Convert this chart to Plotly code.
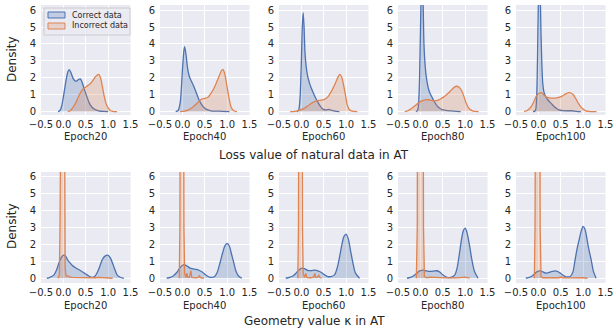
import plotly.graph_objects as go

W, H = 615, 329

epochs = ["Epoch20", "Epoch40", "Epoch60", "Epoch80", "Epoch100"]
row_titles = ["Loss value of natural data in AT", "Geometry value κ in AT"]
series_names = ["Correct data", "Incorrect data"]
x_tick_vals = [-0.5, 0.0, 0.5, 1.0, 1.5]
x_tick_text = ["−0.5", "0.0", "0.5", "1.0", "1.5"]
y_tick_vals = [0, 1, 2, 3, 4, 5, 6]

# ---------------- Loss value (top row) ----------------
loss_e20_correct_x = [-0.12, -0.08, -0.04, 0.0, 0.05, 0.1, 0.13, 0.17, 0.22, 0.27, 0.3, 0.34, 0.38, 0.42, 0.47, 0.53, 0.58, 0.64, 0.7, 0.79, 0.9, 1.0]
loss_e20_correct_y = [0, 0.05, 0.3, 0.85, 1.7, 2.35, 2.48, 2.3, 1.95, 1.8, 1.82, 1.9, 1.93, 1.72, 1.3, 0.85, 0.5, 0.26, 0.14, 0.05, 0.01, 0]
loss_e20_incorrect_x = [0.1, 0.15, 0.2, 0.25, 0.3, 0.35, 0.4, 0.45, 0.5, 0.55, 0.6, 0.65, 0.7, 0.75, 0.79, 0.83, 0.87, 0.91, 0.95, 1.0, 1.05, 1.1, 1.2]
loss_e20_incorrect_y = [0, 0.05, 0.2, 0.4, 0.65, 0.95, 1.2, 1.35, 1.45, 1.55, 1.65, 1.8, 2.0, 2.15, 2.2, 2.0, 1.5, 0.95, 0.5, 0.22, 0.07, 0.02, 0]

loss_e40_correct_x = [-0.15, -0.1, -0.05, 0.0, 0.03, 0.05, 0.08, 0.12, 0.16, 0.21, 0.27, 0.32, 0.38, 0.44, 0.5, 0.57, 0.64, 0.75, 0.9, 1.05]
loss_e40_correct_y = [0, 0.05, 0.5, 2.4, 3.5, 3.84, 3.4, 2.5, 2.05, 1.75, 1.4, 1.05, 0.65, 0.38, 0.2, 0.1, 0.05, 0.03, 0.02, 0]
loss_e40_incorrect_x = [-0.05, 0.05, 0.15, 0.25, 0.35, 0.42, 0.5, 0.57, 0.63, 0.7, 0.76, 0.83, 0.88, 0.91, 0.95, 1.0, 1.05, 1.09, 1.15, 1.22]
loss_e40_incorrect_y = [0, 0.03, 0.12, 0.3, 0.55, 0.72, 0.78, 0.85, 1.05, 1.35, 1.7, 2.15, 2.45, 2.48, 2.2, 1.45, 0.7, 0.26, 0.05, 0]

loss_e60_correct_x = [-0.1, -0.06, -0.03, 0.0, 0.02, 0.04, 0.06, 0.08, 0.11, 0.14, 0.18, 0.22, 0.26, 0.31, 0.37, 0.43, 0.48, 0.55, 0.62, 0.68, 0.75, 0.85]
loss_e60_correct_y = [0, 0.1, 0.8, 3.0, 5.0, 5.85, 5.0, 3.5, 2.6, 2.1, 1.7, 1.4, 1.15, 0.85, 0.55, 0.3, 0.15, 0.1, 0.13, 0.07, 0.03, 0]
loss_e60_incorrect_x = [-0.25, -0.15, -0.05, 0.05, 0.15, 0.26, 0.35, 0.45, 0.52, 0.6, 0.66, 0.72, 0.77, 0.82, 0.86, 0.9, 0.96, 1.0, 1.03, 1.08, 1.14, 1.25]
loss_e60_incorrect_y = [0, 0.02, 0.08, 0.18, 0.35, 0.55, 0.65, 0.68, 0.72, 0.9, 1.15, 1.45, 1.75, 2.05, 2.2, 2.05, 1.35, 0.75, 0.35, 0.1, 0.03, 0]

loss_e80_correct_x = [-0.1, -0.06, -0.03, 0.0, 0.02, 0.04, 0.06, 0.08, 0.11, 0.14, 0.18, 0.22, 0.26, 0.31, 0.37, 0.44, 0.51, 0.6, 0.7, 0.8, 0.9]
loss_e80_correct_y = [0, 0.1, 1.0, 4.5, 7.0, 7.6, 6.5, 4.0, 2.6, 1.9, 1.35, 1.05, 0.85, 0.6, 0.35, 0.18, 0.1, 0.06, 0.04, 0.02, 0]
loss_e80_incorrect_x = [-0.35, -0.28, -0.2, -0.12, -0.05, 0.02, 0.1, 0.18, 0.26, 0.33, 0.4, 0.47, 0.55, 0.62, 0.7, 0.76, 0.81, 0.86, 0.92, 0.98, 1.03, 1.1, 1.18, 1.3]
loss_e80_incorrect_y = [0, 0.05, 0.18, 0.35, 0.5, 0.62, 0.7, 0.7, 0.66, 0.64, 0.68, 0.78, 0.92, 1.08, 1.3, 1.45, 1.5, 1.45, 1.25, 0.85, 0.45, 0.15, 0.03, 0]

loss_e100_correct_x = [-0.12, -0.07, -0.04, -0.02, 0.0, 0.02, 0.04, 0.06, 0.08, 0.1, 0.13, 0.17, 0.21, 0.25, 0.3, 0.35, 0.41, 0.46, 0.55, 0.65, 0.75, 0.85, 0.95]
loss_e100_correct_y = [0, 0.05, 0.8, 3.0, 6.5, 8.0, 7.0, 4.5, 2.65, 1.6, 1.1, 0.85, 0.7, 0.58, 0.45, 0.3, 0.18, 0.1, 0.06, 0.05, 0.05, 0.02, 0]
loss_e100_incorrect_x = [-0.32, -0.25, -0.16, -0.1, -0.05, 0.0, 0.06, 0.12, 0.17, 0.23, 0.28, 0.33, 0.38, 0.45, 0.53, 0.6, 0.67, 0.73, 0.78, 0.84, 0.89, 0.95, 1.0, 1.05, 1.12, 1.3]
loss_e100_incorrect_y = [0, 0.07, 0.3, 0.6, 0.9, 1.05, 1.12, 1.0, 0.88, 0.82, 0.8, 0.8, 0.8, 0.84, 0.92, 1.03, 1.12, 1.1, 1.0, 0.75, 0.5, 0.28, 0.15, 0.06, 0.02, 0]

# ---------------- Geometry value (bottom row) ----------------
geo_e20_correct_x = [-0.37, -0.3, -0.21, -0.15, -0.1, -0.05, 0.0, 0.05, 0.09, 0.15, 0.2, 0.28, 0.35, 0.43, 0.5, 0.57, 0.64, 0.7, 0.76, 0.82, 0.87, 0.93, 1.0, 1.05, 1.11, 1.16, 1.2, 1.27, 1.35]
geo_e20_correct_y = [0, 0.05, 0.2, 0.5, 0.9, 1.2, 1.35, 1.3, 1.1, 0.9, 0.75, 0.6, 0.5, 0.37, 0.25, 0.13, 0.05, 0.1, 0.35, 0.75, 1.1, 1.3, 1.35, 1.2, 0.8, 0.45, 0.2, 0.06, 0]
geo_e20_incorrect_x = [-0.12, -0.09, -0.075, -0.07, -0.05, -0.02, 0.01, 0.025, 0.03, 0.04, 0.06, 0.08, 0.1, 0.12, 0.15, 0.2, 0.3, 0.4, 0.5, 0.6, 0.7, 0.8, 0.9, 1.0, 1.1]
geo_e20_incorrect_y = [0, 0.2, 3.0, 10, 22, 26, 22, 10, 3.0, 0.6, 0.15, 0.12, 0.15, 0.1, 0.06, 0.05, 0.04, 0.05, 0.03, 0.04, 0.03, 0.05, 0.03, 0.05, 0]

geo_e40_correct_x = [-0.35, -0.27, -0.2, -0.12, -0.05, 0.0, 0.04, 0.1, 0.17, 0.22, 0.28, 0.34, 0.39, 0.45, 0.5, 0.56, 0.61, 0.67, 0.72, 0.78, 0.83, 0.87, 0.9, 0.95, 1.0, 1.05, 1.09, 1.15, 1.2, 1.26, 1.33]
geo_e40_correct_y = [0, 0.05, 0.15, 0.35, 0.63, 0.75, 0.8, 0.72, 0.6, 0.56, 0.53, 0.5, 0.44, 0.35, 0.24, 0.13, 0.06, 0.05, 0.1, 0.35, 0.8, 1.2, 1.5, 1.9, 2.05, 1.9, 1.5, 0.9, 0.4, 0.12, 0]
geo_e40_incorrect_x = [-0.07, -0.055, -0.05, -0.04, -0.01, 0.02, 0.03, 0.035, 0.05, 0.08, 0.1, 0.12, 0.15, 0.17, 0.19, 0.21, 0.25, 0.3, 0.35, 0.38, 0.4, 0.42, 0.45, 0.48]
geo_e40_incorrect_y = [0, 3, 10, 22, 28, 22, 10, 3, 0.3, 0.05, 0.3, 0.05, 0.05, 0.2, 0.45, 0.05, 0.03, 0.02, 0.05, 0.15, 0.05, 0.02, 0.01, 0]

geo_e60_correct_x = [-0.35, -0.27, -0.18, -0.12, -0.07, -0.02, 0.02, 0.08, 0.15, 0.22, 0.3, 0.37, 0.44, 0.52, 0.59, 0.66, 0.74, 0.8, 0.85, 0.9, 0.95, 1.0, 1.05, 1.1, 1.16, 1.21, 1.3]
geo_e60_correct_y = [0, 0.05, 0.15, 0.3, 0.45, 0.56, 0.6, 0.55, 0.45, 0.45, 0.48, 0.44, 0.35, 0.2, 0.1, 0.1, 0.2, 0.6, 1.2, 1.9, 2.45, 2.6, 2.3, 1.6, 0.8, 0.3, 0]
geo_e60_incorrect_x = [-0.08, -0.065, -0.06, -0.05, -0.02, 0.01, 0.02, 0.025, 0.04, 0.07, 0.09, 0.1, 0.12, 0.15, 0.2, 0.25, 0.28, 0.3, 0.32, 0.35, 0.38, 0.39, 0.41, 0.45]
geo_e60_incorrect_y = [0, 3, 10, 22, 28, 22, 10, 3, 0.3, 0.05, 0.15, 0.28, 0.05, 0.03, 0.03, 0.05, 0.1, 0.28, 0.05, 0.05, 0.12, 0.18, 0.05, 0]

geo_e80_correct_x = [-0.3, -0.22, -0.15, -0.08, -0.04, 0.0, 0.05, 0.12, 0.22, 0.3, 0.37, 0.44, 0.5, 0.56, 0.62, 0.7, 0.77, 0.82, 0.87, 0.92, 0.96, 1.0, 1.04, 1.1, 1.15, 1.21, 1.29]
geo_e80_correct_y = [0, 0.05, 0.15, 0.3, 0.4, 0.45, 0.48, 0.44, 0.4, 0.42, 0.44, 0.35, 0.2, 0.1, 0.04, 0.06, 0.2, 0.6, 1.4, 2.3, 2.8, 2.95, 2.7, 1.9, 1.1, 0.4, 0]
geo_e80_incorrect_x = [-0.09, -0.07, -0.065, -0.05, 0.0, 0.05, 0.065, 0.07, 0.09, 0.15, 0.2, 0.25, 0.3, 0.4, 0.6, 0.8, 0.95, 1.0, 1.05, 1.1]
geo_e80_incorrect_y = [0, 3, 10, 18, 22, 18, 10, 3, 0.1, 0.03, 0.06, 0.05, 0.06, 0.02, 0.02, 0.02, 0.05, 0.07, 0.03, 0]

geo_e100_correct_x = [-0.28, -0.2, -0.16, -0.1, -0.05, 0.0, 0.04, 0.1, 0.17, 0.24, 0.31, 0.38, 0.44, 0.49, 0.55, 0.6, 0.66, 0.71, 0.77, 0.82, 0.87, 0.91, 0.96, 1.0, 1.04, 1.07, 1.12, 1.18, 1.23, 1.29]
geo_e100_correct_y = [0, 0.05, 0.1, 0.22, 0.35, 0.42, 0.43, 0.38, 0.3, 0.35, 0.4, 0.43, 0.38, 0.3, 0.18, 0.1, 0.08, 0.1, 0.35, 1.08, 1.8, 2.25, 2.8, 3.05, 2.9, 2.55, 1.8, 1.08, 0.4, 0]
geo_e100_incorrect_x = [-0.09, -0.075, -0.065, -0.05, -0.015, 0.02, 0.035, 0.04, 0.06, 0.1, 0.2, 0.3, 0.45, 0.5, 0.55, 0.7, 0.9, 0.95, 1.0, 1.1]
geo_e100_incorrect_y = [0, 3, 10, 20, 24, 20, 10, 3, 0.1, 0.03, 0.02, 0.02, 0.03, 0.07, 0.03, 0.02, 0.03, 0.06, 0.03, 0]

loss_curves = [
    (loss_e20_correct_x, loss_e20_correct_y, loss_e20_incorrect_x, loss_e20_incorrect_y),
    (loss_e40_correct_x, loss_e40_correct_y, loss_e40_incorrect_x, loss_e40_incorrect_y),
    (loss_e60_correct_x, loss_e60_correct_y, loss_e60_incorrect_x, loss_e60_incorrect_y),
    (loss_e80_correct_x, loss_e80_correct_y, loss_e80_incorrect_x, loss_e80_incorrect_y),
    (loss_e100_correct_x, loss_e100_correct_y, loss_e100_incorrect_x, loss_e100_incorrect_y),
]
geo_curves = [
    (geo_e20_correct_x, geo_e20_correct_y, geo_e20_incorrect_x, geo_e20_incorrect_y),
    (geo_e40_correct_x, geo_e40_correct_y, geo_e40_incorrect_x, geo_e40_incorrect_y),
    (geo_e60_correct_x, geo_e60_correct_y, geo_e60_incorrect_x, geo_e60_incorrect_y),
    (geo_e80_correct_x, geo_e80_correct_y, geo_e80_incorrect_x, geo_e80_incorrect_y),
    (geo_e100_correct_x, geo_e100_correct_y, geo_e100_incorrect_x, geo_e100_incorrect_y),
]

# ---------------- styling / layout ----------------
BLUE = "#4C72B0"
ORANGE = "#DD8452"
BLUE_FILL = "rgba(76,114,176,0.25)"
ORANGE_FILL = "rgba(221,132,82,0.25)"
BG = "#EAEAF2"
TXT = "#262626"
FONT = "DejaVu Sans"

panel_left = [41, 160, 279, 398, 516]
panel_w = 89.5
row_top = [5, 172]
row_bottom = [115, 283]
row_yrange = [[-0.2, 6.3], [-0.28, 6.25]]


def px(x):
    return x / W


def py(y):
    return 1 - y / H


fig = go.Figure()
layout_axes = {}
annotations = []
shapes = []

rows = [loss_curves, geo_curves]
for r, curves in enumerate(rows):
    for c, (cx, cy, ix, iy) in enumerate(curves):
        idx = r * 5 + c + 1
        xa = "x" if idx == 1 else f"x{idx}"
        ya = "y" if idx == 1 else f"y{idx}"
        fig.add_trace(go.Scatter(
            x=cx, y=cy, mode="lines", fill="tozeroy", fillcolor=BLUE_FILL,
            line=dict(color=BLUE, width=1.3, shape="spline", smoothing=0.8),
            name=series_names[0], showlegend=False, xaxis=xa, yaxis=ya,
            hoverinfo="skip"))
        fig.add_trace(go.Scatter(
            x=ix, y=iy, mode="lines", fill="tozeroy", fillcolor=ORANGE_FILL,
            line=dict(color=ORANGE, width=1.3,
                      shape=("spline" if r == 0 else "linear"), smoothing=0.8),
            name=series_names[1], showlegend=False, xaxis=xa, yaxis=ya,
            hoverinfo="skip"))
        l = panel_left[c]
        xkey = "xaxis" if idx == 1 else f"xaxis{idx}"
        ykey = "yaxis" if idx == 1 else f"yaxis{idx}"
        layout_axes[xkey] = dict(
            domain=[px(l), px(l + panel_w)], anchor=ya, range=[-0.5, 1.5],
            tickvals=x_tick_vals, ticktext=x_tick_text, tickangle=0,
            showgrid=True, gridcolor="white", gridwidth=1,
            zeroline=False, showline=False, ticks="", automargin=False,
            tickfont=dict(family=FONT, size=10, color=TXT),
            ticklabelstandoff=2, fixedrange=True)
        layout_axes[ykey] = dict(
            domain=[py(row_bottom[r]), py(row_top[r])], anchor=xa, range=row_yrange[r],
            tickvals=y_tick_vals, tickangle=0,
            showgrid=True, gridcolor="white", gridwidth=1,
            zeroline=False, showline=False, ticks="", automargin=False,
            tickfont=dict(family=FONT, size=10, color=TXT),
            ticklabelstandoff=4, fixedrange=True)
        annotations.append(dict(
            text=epochs[c], x=px(l + panel_w / 2), y=py(137 if r == 0 else 305),
            xref="paper", yref="paper", showarrow=False,
            xanchor="center", yanchor="middle",
            font=dict(family=FONT, size=10, color=TXT)))

    annotations.append(dict(
        text="Density", x=px(12), y=py(59 if r == 0 else 226),
        xref="paper", yref="paper", showarrow=False, textangle=-90,
        xanchor="center", yanchor="middle",
        font=dict(family=FONT, size=12, color=TXT)))
    annotations.append(dict(
        text=row_titles[r], x=px(314), y=py(155 if r == 0 else 321),
        xref="paper", yref="paper", showarrow=False,
        xanchor="center", yanchor="middle",
        font=dict(family=FONT, size=12, color=TXT)))

# legend (inside first panel), drawn as a compact box like matplotlib's
shapes.append(dict(type="rect", xref="paper", yref="paper",
                   x0=px(44), x1=px(130), y0=py(35), y1=py(8),
                   fillcolor="rgba(234,234,242,0.8)", line=dict(color="#CCCCCC", width=1),
                   layer="above"))
legend_cols = [(BLUE, BLUE_FILL), (ORANGE, ORANGE_FILL)]
for k, name in enumerate(series_names):
    yc = 15 + k * 11
    shapes.append(dict(type="rect", xref="paper", yref="paper",
                       x0=px(48), x1=px(65), y0=py(yc + 3), y1=py(yc - 3),
                       fillcolor=legend_cols[k][1], line=dict(color=legend_cols[k][0], width=1),
                       layer="above"))
    annotations.append(dict(
        text=name, x=px(70), y=py(yc), xref="paper", yref="paper", showarrow=False,
        xanchor="left", yanchor="middle",
        font=dict(family=FONT, size=8, color=TXT)))

fig.update_layout(
    width=W, height=H,
    margin=dict(l=0, r=0, t=0, b=0, autoexpand=False),
    paper_bgcolor="white", plot_bgcolor=BG,
    font=dict(family=FONT, color=TXT),
    annotations=annotations,
    shapes=shapes,
    showlegend=False,
    **layout_axes,
)

fig.write_html("out.html", config={"displayModeBar": False, "staticPlot": True},
               post_script="document.body.style.margin='0px';document.body.style.overflow='hidden';")
